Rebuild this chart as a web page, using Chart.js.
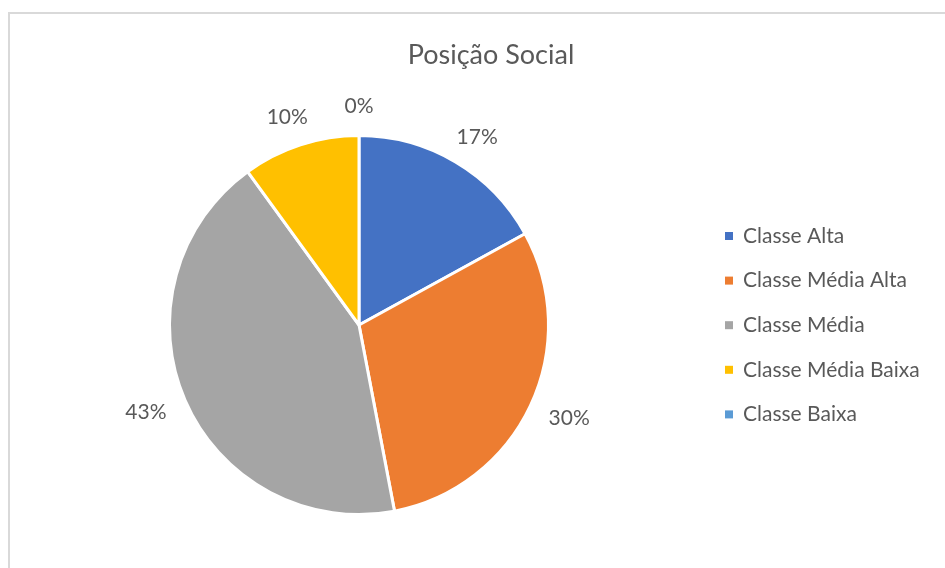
<!DOCTYPE html>
<html lang="pt">
<head>
<meta charset="utf-8">
<script src="https://cdn.jsdelivr.net/npm/chart.js@4/dist/chart.umd.min.js"></script>
<style>
    html, body { margin: 0; padding: 0; background: #fff; overflow: hidden; }
    #moldura { position: absolute; left: 8px; top: 12px; width: 1000px; height: 620px; border: 2px solid #d9d9d9; }
    #grafico { position: absolute; left: 0; top: 0; }
</style>
</head>
<body>
<div id="moldura"></div>
<canvas id="grafico" width="945" height="568"></canvas>
<script>
// Dados do gráfico
const titulo = 'Posição Social';
const categorias = ['Classe Alta', 'Classe Média Alta', 'Classe Média', 'Classe Média Baixa', 'Classe Baixa'];
const percentuais = [17, 30, 43, 10, 0];
const cores = ['#4472C4', '#ED7D31', '#A5A5A5', '#FFC000', '#5B9BD5'];

const corTexto = '#595959';
const fonte = 'Lato, "Open Sans", sans-serif';

// Plugin que desenha título, rótulos de porcentagem e legenda
const pluginTextos = {
    id: 'textos',
    afterDraw(chart) {
        const ctx = chart.ctx;
        ctx.save();
        ctx.fillStyle = corTexto;

        // Título
        ctx.font = '27px ' + fonte;
        ctx.textAlign = 'center';
        ctx.textBaseline = 'middle';
        ctx.fillText(titulo, 491, 55);

        // Rótulos fora das fatias
        ctx.font = '21px ' + fonte;
        const meta = chart.getDatasetMeta(0);
        meta.data.forEach((arco, i) => {
            const meio = (arco.startAngle + arco.endAngle) / 2;
            const cx = Math.cos(meio), cy = Math.sin(meio);
            const r = arco.outerRadius + 18;
            const texto = percentuais[i] + '%';
            const w = ctx.measureText(texto).width;
            const x = arco.x + cx * r + cx * w * 0.6;
            const y = arco.y + cy * r + cy * 11;
            ctx.fillText(texto, x, y);
        });

        // Legenda
        ctx.textAlign = 'left';
        categorias.forEach((nome, i) => {
            const y = 236 + i * 44.6;
            ctx.fillStyle = cores[i];
            ctx.fillRect(725, y - 4, 8, 8);
            ctx.fillStyle = corTexto;
            ctx.fillText(nome, 743, y);
        });
        ctx.restore();
    }
};

new Chart(document.getElementById('grafico'), {
    type: 'pie',
    data: {
        labels: categorias,
        datasets: [{
            data: percentuais,
            backgroundColor: cores,
            borderColor: '#ffffff',
            borderWidth: 3
        }]
    },
    options: {
        responsive: false,
        animation: false,
        layout: {
            padding: { top: 134, bottom: 52, left: 168, right: 395 }
        },
        plugins: {
            legend: { display: false },
            title: { display: false },
            tooltip: { enabled: false }
        }
    },
    plugins: [pluginTextos]
});
</script>
</body>
</html>
